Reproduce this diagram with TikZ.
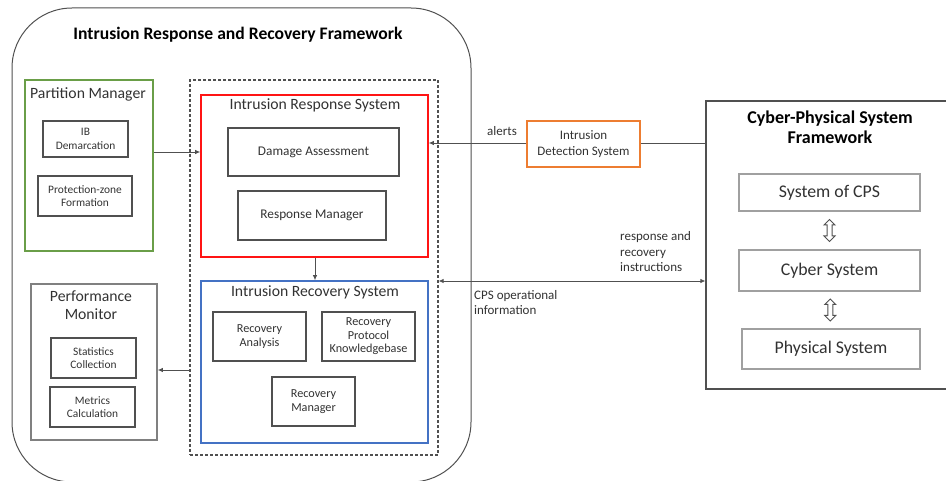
\documentclass[tikz,border=0pt]{standalone}
\usepackage{fontspec}
\setmainfont{Carlito}
\usetikzlibrary{arrows.meta,shapes.arrows,calc}
\definecolor{ggreen}{RGB}{106,158,72}
\definecolor{rred}{RGB}{255,20,20}
\definecolor{bblue}{RGB}{68,114,196}
\definecolor{oorange}{RGB}{237,125,49}
\definecolor{ttext}{RGB}{50,50,50}
\definecolor{lgray}{RGB}{160,160,160}
\definecolor{mgray}{RGB}{128,128,128}
\definecolor{dgray}{RGB}{80,80,80}
\begin{document}
\begin{tikzpicture}[x=1pt,y=-1pt,
  every node/.style={text=ttext},
  box/.style={draw=dgray, line width=1.2pt, align=center, inner sep=0pt, font=\fontsize{11.4}{13.5}\selectfont},
  rbox/.style={box, font=\fontsize{12.2}{13.5}\selectfont},
  frame/.style={draw=#1, line width=1.6pt, inner sep=0pt},
  ttl/.style={align=center, inner sep=0pt, font=\fontsize{15.7}{17.5}\selectfont},
  btitle/.style={align=center, inner sep=0pt, text=black, font=\fontsize{17.6}{20}\selectfont\bfseries},
  lbl/.style={align=left, inner sep=0pt, anchor=west, font=\fontsize{13}{15.5}\selectfont},
  cbox/.style={draw=lgray, line width=1.6pt, inner sep=0pt, font=\fontsize{17.8}{20}\selectfont},
  arr/.style={draw=dgray, line width=0.8pt, -{Latex[length=5pt,width=4.5pt]}},
  darr/.style={draw=dgray, line width=0.8pt, {Latex[length=5pt,width=4.5pt]}-{Latex[length=5pt,width=4.5pt]}},
  updown/.style={double arrow, draw=dgray, line width=1pt, rotate=90, minimum height=22pt, minimum width=10pt, inner sep=2pt, double arrow head extend=3pt}
]
\useasboundingbox (0,0) rectangle (946,481);
\clip (0,0) rectangle (946,481);

% outer framework
\node[draw=dgray, line width=1pt, rounded corners=60pt, minimum width=459pt, minimum height=474pt, inner sep=0pt] (irrf) at (241.5,245) {};
\node[btitle] (irrft) at (238,35) {Intrusion Response and Recovery Framework};

% partition manager
\node[frame=ggreen, minimum width=128pt, minimum height=171pt] (pm) at (89,165.5) {};
\node[ttl] (pmt) at (88,94) {Partition Manager};
\node[box, minimum width=85pt, minimum height=36pt] (ib) at (85.5,139) {IB\\Demarcation};
\node[box, minimum width=94pt, minimum height=40pt] (pz) at (85,196) {Protection-zone\\Formation};

% dashed container
\node[draw=dgray, line width=1.2pt, dashed, dash pattern=on 3pt off 2pt, minimum width=248pt, minimum height=375pt, inner sep=0pt] (dash) at (314,267.5) {};

% intrusion response system
\node[frame=rred, minimum width=227pt, minimum height=162pt] (irs) at (314.5,176) {};
\node[ttl] (irst) at (315,105) {Intrusion Response System};
\node[box, font=\fontsize{13.3}{15}\selectfont, minimum width=171pt, minimum height=48pt] (da) at (313.5,152) {Damage Assessment};
\node[box, font=\fontsize{13.3}{15}\selectfont, minimum width=148pt, minimum height=49pt] (rm) at (312,215.5) {Response Manager};

% intrusion recovery system
\node[frame=bblue, minimum width=227pt, minimum height=162pt] (irecs) at (314.5,362) {};
\node[ttl] (irecst) at (315,292) {Intrusion Recovery System};
\node[rbox, minimum width=93pt, minimum height=49pt] (ra) at (259.5,336.5) {Recovery\\Analysis};
\node[rbox, minimum width=93pt, minimum height=49pt] (rpk) at (368.5,336.5) {Recovery\\Protocol\\Knowledgebase};
\node[rbox, minimum width=83pt, minimum height=49pt] (rmg) at (313.5,401.5) {Recovery\\Manager};

% performance monitor
\node[draw=mgray, line width=1.6pt, minimum width=126pt, minimum height=156pt, inner sep=0pt] (pmon) at (94,362) {};
\node[ttl] (pmont) at (91,305) {Performance\\Monitor};
\node[box, minimum width=85pt, minimum height=40pt] (sc) at (93.5,358) {Statistics\\Collection};
\node[box, minimum width=85pt, minimum height=40pt] (mc) at (92.5,407) {Metrics\\Calculation};

% IDS
\node[draw=oorange, line width=1.6pt, minimum width=113pt, minimum height=46pt, inner sep=0pt, align=center, font=\fontsize{13}{16}\selectfont] (ids) at (583.5,144) {Intrusion\\Detection System};

% CPS framework
\node[draw=dgray, line width=1.2pt, minimum width=254pt, minimum height=288pt, inner sep=0pt] (cps) at (833,245) {};
\node[btitle, font=\fontsize{18}{20}\selectfont\bfseries] (cpst) at (830,127) {Cyber-Physical System\\Framework};
\node[cbox, minimum width=181pt, minimum height=37pt] (soc) at (829.5,192.5) {System of CPS};
\node[cbox, minimum width=181pt, minimum height=41pt] (cs) at (829.5,270.5) {Cyber System};
\node[cbox, minimum width=178pt, minimum height=40pt] (ps) at (831,349) {Physical System};
\node[updown] (ud1) at ($(soc.south)!0.5!(cs.north)$) {};
\node[updown] (ud2) at ($(cs.south)!0.5!(ps.north)$) {};

% helper coordinates
\coordinate (y152) at (0,152);
\coordinate (y143) at (0,143);
\coordinate (y281) at (0,281);
\coordinate (y370) at (0,370);
\coordinate (x315) at (315,0);

% connectors
\draw[arr] (pm.east |- y152) -- (irs.west |- y152);
\draw[arr] (irs.south -| x315) -- (irecs.north -| x315);
\draw[arr] (dash.west |- y370) -- (pmon.east |- y370);
\draw[draw=dgray, line width=0.8pt] (cps.west |- y143) -- (ids.east |- y143);
\draw[arr] (ids.west |- y143) -- (irs.east |- y143);
\draw[darr] (dash.east |- y281) -- (cps.west |- y281);

% labels
\node[lbl] (alerts) at (487,131) {alerts};
\node[lbl] (rri) at (620,252) {response and\\recovery\\instructions};
\node[lbl] (cpsop) at (474,302.5) {CPS operational\\information};
\end{tikzpicture}
\end{document}
